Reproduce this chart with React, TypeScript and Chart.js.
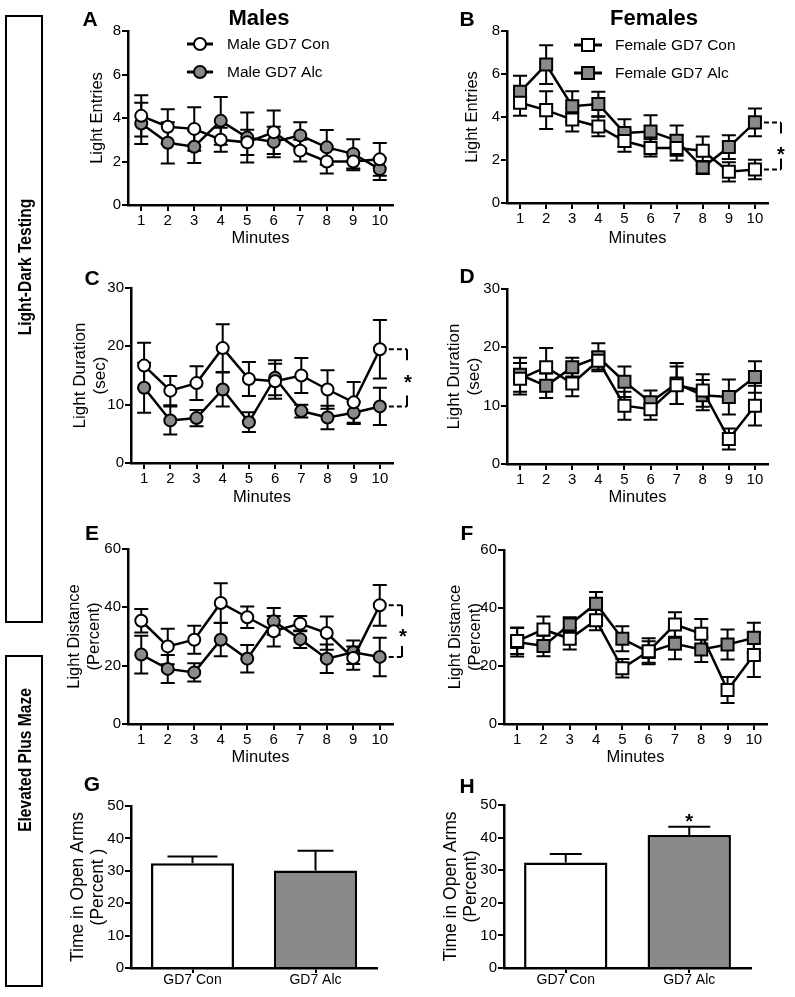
import React, { useEffect, useRef } from 'react';
import { Chart, registerables } from 'chart.js';

Chart.register(...registerables);

const W = 795;
const H = 997;
const FONT = '"Liberation Sans", Arial, Helvetica, sans-serif';
const NARROW = '"Liberation Sans Narrow", "Arial Narrow", "Liberation Sans", Arial, sans-serif';
const GRAY = '#8a8a8a';

Chart.defaults.font.family = FONT;
Chart.defaults.color = '#000';

// ---------- data ----------
const minuteLabels = ['1', '2', '3', '4', '5', '6', '7', '8', '9', '10'];

// A: Light entries, males
const maleConEntries = [4.1, 3.6, 3.5, 3.0, 2.88, 3.35, 2.5, 2.0, 2.0, 2.1];
const maleConEntriesErr = [0.95, 0.8, 1.0, 0.55, 0.58, 1.0, 0.5, 0.55, 0.4, 0.75];
const maleAlcEntries = [3.75, 2.86, 2.68, 3.87, 3.1, 2.9, 3.2, 2.65, 2.35, 1.65];
const maleAlcEntriesErr = [0.95, 0.95, 0.75, 1.1, 1.15, 0.7, 0.6, 0.8, 0.67, 0.5];

// B: Light entries, females
const femConEntries = [4.66, 4.32, 3.88, 3.56, 2.88, 2.56, 2.56, 2.43, 1.45, 1.56];
const femConEntriesErr = [0.6, 0.88, 0.55, 0.45, 0.5, 0.4, 0.58, 0.66, 0.45, 0.45];
const femAlcEntries = [5.17, 6.44, 4.5, 4.6, 3.26, 3.33, 2.9, 1.65, 2.6, 3.75];
const femAlcEntriesErr = [0.75, 0.9, 0.7, 0.57, 0.63, 0.75, 0.7, 0.3, 0.55, 0.65];

// C: Light duration, males
const maleConDuration = [16.7, 12.4, 13.7, 19.7, 14.4, 14.0, 15.0, 12.6, 10.4, 19.5];
const maleConDurationErr = [3.9, 2.5, 2.9, 4.1, 2.9, 3.0, 3.0, 3.3, 3.5, 5.0];
const maleAlcDuration = [12.9, 7.3, 7.7, 12.6, 7.0, 14.6, 8.9, 7.8, 8.6, 9.7];
const maleAlcDurationErr = [4.3, 2.4, 1.4, 2.9, 1.7, 3.0, 1.1, 2.0, 1.9, 3.2];

// D: Light duration, females
const femConDuration = [14.6, 16.6, 13.8, 17.7, 10.0, 9.4, 13.5, 12.6, 4.3, 10.0];
const femConDurationErr = [2.7, 3.3, 2.2, 1.5, 2.4, 1.8, 3.2, 2.8, 1.8, 3.4];
const femAlcDuration = [15.3, 13.4, 16.6, 18.3, 14.1, 10.6, 13.8, 11.8, 11.5, 14.9];
const femAlcDurationErr = [2.9, 2.1, 1.6, 2.4, 2.6, 2.0, 3.5, 2.6, 3.0, 2.7];

// E: Light distance, males
const maleConDistance = [35.4, 26.6, 28.9, 41.5, 36.6, 31.8, 34.4, 31.2, 22.6, 40.7];
const maleConDistanceErr = [4.0, 6.1, 4.8, 6.8, 3.7, 5.2, 2.6, 5.7, 4.0, 7.0];
const maleAlcDistance = [23.8, 18.9, 17.7, 28.9, 22.4, 35.2, 29.1, 22.4, 24.6, 23.0];
const maleAlcDistanceErr = [6.5, 4.8, 3.1, 5.7, 4.7, 4.6, 3.0, 4.9, 4.0, 6.6];

// F: Light distance, females
const femConDistance = [28.6, 32.6, 29.4, 35.8, 19.2, 25.1, 34.3, 31.1, 11.7, 23.8];
const femConDistanceErr = [4.5, 4.5, 3.7, 3.5, 3.2, 4.5, 4.2, 5.1, 4.5, 7.6];
const femAlcDistance = [28.3, 26.9, 34.3, 41.5, 29.4, 24.8, 27.7, 25.7, 27.4, 29.7];
const femAlcDistanceErr = [5.0, 3.5, 2.5, 4.0, 4.3, 3.7, 5.4, 4.3, 5.2, 5.2];

// G/H: Elevated plus maze
const groupLabels = ['GD7 Con', 'GD7 Alc'];
const maleOpenArms = [32.3, 30.1];
const maleOpenArmsErr = [2.1, 6.1];
const femOpenArms = [32.4, 40.8];
const femOpenArmsErr = [2.6, 2.5];

// ---------- plugins ----------
function drawErrors(chart: any, opts: any) {
  const ctx = chart.ctx;
  const ys = chart.scales.y;
  ctx.save();
  ctx.strokeStyle = '#000';
  ctx.lineWidth = opts.lineWidth || 2;
  chart.data.datasets.forEach((ds: any, di: number) => {
    const meta = chart.getDatasetMeta(di);
    (ds.errors || []).forEach((e: number, i: number) => {
      const el = meta.data[i];
      if (!el) return;
      const v = ds.data[i];
      const x = el.x;
      const c = Array.isArray(opts.capHalf) ? opts.capHalf[i] : opts.capHalf;
      const yTop = ys.getPixelForValue(v + e);
      const yBot = opts.mode === 'up' ? ys.getPixelForValue(v) : ys.getPixelForValue(v - e);
      ctx.beginPath();
      ctx.moveTo(x, yTop);
      ctx.lineTo(x, yBot);
      ctx.moveTo(x - c, yTop);
      ctx.lineTo(x + c, yTop);
      if (opts.mode === 'both') {
        ctx.moveTo(x - c, yBot);
        ctx.lineTo(x + c, yBot);
      }
      ctx.stroke();
    });
  });
  ctx.restore();
}

const errorBarsPlugin = {
  id: 'errorBars',
  beforeDatasetsDraw(chart: any, _a: any, opts: any) {
    if (!opts || opts.mode !== 'both') return;
    drawErrors(chart, opts);
  },
  afterDatasetsDraw(chart: any, _a: any, opts: any) {
    if (!opts || opts.mode !== 'up') return;
    drawErrors(chart, opts);
  },
};

function drawMarker(ctx: any, shape: string, x: number, y: number, fill: string) {
  ctx.beginPath();
  if (shape === 'rect') {
    ctx.rect(x - 6, y - 6, 12, 12);
  } else {
    ctx.arc(x, y, 6, 0, Math.PI * 2);
  }
  ctx.fillStyle = fill;
  ctx.fill();
  ctx.lineWidth = 2;
  ctx.strokeStyle = '#000';
  ctx.stroke();
}

const inlineLegendPlugin = {
  id: 'inlineLegend',
  afterDraw(chart: any, _a: any, opts: any) {
    if (!opts || opts.x === undefined) return;
    const ctx = chart.ctx;
    ctx.save();
    chart.data.datasets.forEach((ds: any, i: number) => {
      const y = opts.y + i * opts.dy;
      ctx.beginPath();
      ctx.strokeStyle = '#000';
      ctx.lineWidth = 3;
      ctx.moveTo(opts.x - opts.half, y);
      ctx.lineTo(opts.x + opts.half, y);
      ctx.stroke();
      drawMarker(ctx, ds.pointStyle, opts.x, y, ds.pointBackgroundColor);
      ctx.fillStyle = '#000';
      ctx.font = `${opts.fontSize}px ${FONT}`;
      ctx.textBaseline = 'middle';
      ctx.textAlign = 'left';
      ctx.fillText(ds.label, opts.textX, y + 1);
    });
    ctx.restore();
  },
};

const bracketPlugin = {
  id: 'sigBracket',
  afterDraw(chart: any, _a: any, opts: any) {
    if (!opts || opts.x === undefined) return;
    const ctx = chart.ctx;
    const p0 = chart.getDatasetMeta(0).data[opts.index];
    const p1 = chart.getDatasetMeta(1).data[opts.index];
    const yA = Math.min(p0.y, p1.y);
    const yB = Math.max(p0.y, p1.y);
    const xs = p0.x + 9;
    ctx.save();
    ctx.strokeStyle = '#000';
    ctx.lineWidth = 2;
    ctx.setLineDash([5, 3]);
    ctx.beginPath();
    ctx.moveTo(xs, yA);
    ctx.lineTo(opts.x, yA);
    ctx.moveTo(xs, yB);
    ctx.lineTo(opts.x, yB);
    ctx.stroke();
    ctx.setLineDash([]);
    ctx.beginPath();
    ctx.moveTo(opts.x, yA);
    ctx.lineTo(opts.x, yA + 11);
    ctx.moveTo(opts.x, yB - 11);
    ctx.lineTo(opts.x, yB);
    ctx.stroke();
    ctx.fillStyle = '#000';
    ctx.font = `bold 20px ${FONT}`;
    ctx.textAlign = 'center';
    ctx.textBaseline = 'alphabetic';
    ctx.fillText('*', opts.starX, (yA + yB) / 2 + (opts.starDy || 0) + 11.5);
    ctx.restore();
  },
};

const barStarPlugin = {
  id: 'barStar',
  afterDraw(chart: any, _a: any, opts: any) {
    if (!opts || opts.index === undefined) return;
    const ctx = chart.ctx;
    const ds = chart.data.datasets[0];
    const el = chart.getDatasetMeta(0).data[opts.index];
    const yCap = chart.scales.y.getPixelForValue(ds.data[opts.index] + ds.errors[opts.index]);
    ctx.save();
    ctx.fillStyle = '#000';
    ctx.font = `bold 20px ${FONT}`;
    ctx.textAlign = 'center';
    ctx.textBaseline = 'alphabetic';
    ctx.fillText('*', el.x, yCap - opts.gap + 11.5);
    ctx.restore();
  },
};

// ---------- config builders ----------
type Area = { left: number; top: number; right: number; bottom: number };

const Y_TITLE_LINE = 20;
const X_TITLE_SIZE = 16.5;
const X_TITLE_LH = 1.2;

function lineDs(label: string, data: number[], errors: number[], fill: string, shape: string) {
  return {
    label,
    data,
    errors,
    borderColor: '#000',
    borderWidth: 2.5,
    pointStyle: shape,
    pointRadius: shape === 'rect' ? 8.5 : 6,
    pointBorderWidth: 2,
    pointBorderColor: '#000',
    pointBackgroundColor: fill,
    tension: 0,
    fill: false,
  };
}

function yScale(area: Area, titleX: number, title: string | string[], titleSize: number, max: number, step: number) {
  const lh = Y_TITLE_LINE;
  const yw = area.left - (titleX - lh / 2);
  return {
    yw,
    scale: {
      min: 0,
      max,
      ticks: { stepSize: step, color: '#000', font: { size: 15 }, padding: 1 },
      grid: { drawOnChartArea: false, drawTicks: true, tickLength: 6, color: '#000', lineWidth: 2 },
      border: { display: true, color: '#000', width: 2.5 },
      title: {
        display: true,
        text: title,
        color: '#000',
        font: { size: titleSize, lineHeight: lh / titleSize },
        padding: 0,
      },
      afterFit: (s: any) => {
        s.width = yw;
      },
    },
  };
}

function lineConfig(spec: any) {
  const { area, titleX, title, titleSize, yMax, yStep, xTitleY, datasets, legend, bracket } = spec;
  const y = yScale(area, titleX, title, titleSize, yMax, yStep);
  const xh = xTitleY + (X_TITLE_SIZE * X_TITLE_LH) / 2 - area.bottom;
  return {
    type: 'line',
    data: { labels: minuteLabels, datasets },
    plugins: [errorBarsPlugin, inlineLegendPlugin, bracketPlugin],
    options: {
      responsive: false,
      animation: false,
      events: [],
      layout: {
        padding: {
          left: area.left - y.yw,
          top: area.top,
          right: W - area.right,
          bottom: H - area.bottom - xh,
        },
      },
      scales: {
        x: {
          type: 'category',
          offset: true,
          ticks: { color: '#000', font: { size: 15 }, padding: 1, autoSkip: false, maxRotation: 0 },
          grid: { offset: false, drawOnChartArea: false, drawTicks: true, tickLength: 6, color: '#000', lineWidth: 2 },
          border: { display: true, color: '#000', width: 2.5 },
          title: {
            display: true,
            text: 'Minutes',
            color: '#000',
            font: { size: X_TITLE_SIZE, lineHeight: X_TITLE_LH },
            padding: 0,
          },
          afterFit: (s: any) => {
            s.height = xh;
          },
        },
        y: y.scale,
      },
      plugins: {
        legend: { display: false },
        tooltip: { enabled: false },
        errorBars: { mode: 'both', capHalf: 7, lineWidth: 2 },
        inlineLegend: legend || {},
        sigBracket: bracket || {},
      },
    },
  };
}

function barConfig(spec: any) {
  const { area, titleX, title, values, errors, capHalf, star } = spec;
  const y = yScale(area, titleX, title, 17.5, 50, 10);
  const xh = 30;
  return {
    type: 'bar',
    data: {
      labels: groupLabels,
      datasets: [
        {
          label: 'Time in Open Arms',
          data: values,
          errors,
          backgroundColor: ['#ffffff', GRAY],
          borderColor: '#000',
          borderWidth: 2.5,
          borderSkipped: 'bottom',
          categoryPercentage: 1,
          barPercentage: 0.675,
        },
      ],
    },
    plugins: [errorBarsPlugin, barStarPlugin],
    options: {
      responsive: false,
      animation: false,
      events: [],
      layout: {
        padding: {
          left: area.left - y.yw,
          top: area.top,
          right: W - area.right,
          bottom: H - area.bottom - xh,
        },
      },
      scales: {
        x: {
          type: 'category',
          offset: true,
          ticks: { color: '#000', font: { size: 14 }, padding: -1, autoSkip: false, maxRotation: 0 },
          grid: { offset: false, drawOnChartArea: false, drawTicks: true, tickLength: 5, color: '#000', lineWidth: 2 },
          border: { display: true, color: '#000', width: 2.5 },
          afterFit: (s: any) => {
            s.height = xh;
          },
        },
        y: y.scale,
      },
      plugins: {
        legend: { display: false },
        tooltip: { enabled: false },
        errorBars: { mode: 'up', capHalf, lineWidth: 2 },
        barStar: star || {},
      },
    },
  };
}

// ---------- panel specs ----------
const panelA = () =>
  lineConfig({
    area: { left: 128, top: 31, right: 393, bottom: 205 },
    titleX: 97,
    title: 'Light Entries',
    titleSize: 16.5,
    yMax: 8,
    yStep: 2,
    xTitleY: 238,
    datasets: [
      lineDs('Male GD7 Con', maleConEntries, maleConEntriesErr, '#ffffff', 'circle'),
      lineDs('Male GD7 Alc', maleAlcEntries, maleAlcEntriesErr, GRAY, 'circle'),
    ],
    legend: { x: 200, half: 13, y: 44, dy: 28, textX: 227, fontSize: 15.5 },
  });

const panelB = () =>
  lineConfig({
    area: { left: 507, top: 31, right: 768, bottom: 203 },
    titleX: 472,
    title: 'Light Entries',
    titleSize: 16.5,
    yMax: 8,
    yStep: 2,
    xTitleY: 238,
    datasets: [
      lineDs('Female GD7 Con', femConEntries, femConEntriesErr, '#ffffff', 'rect'),
      lineDs('Female GD7 Alc', femAlcEntries, femAlcEntriesErr, GRAY, 'rect'),
    ],
    legend: { x: 588, half: 14, y: 45, dy: 28, textX: 615, fontSize: 15.5 },
    bracket: { index: 9, x: 781, starX: 781, starDy: 4 },
  });

const panelC = () =>
  lineConfig({
    area: { left: 131, top: 288, right: 393, bottom: 463 },
    titleX: 80,
    title: ['Light Duration', '(sec)'],
    titleSize: 17,
    yMax: 30,
    yStep: 10,
    xTitleY: 497,
    datasets: [
      lineDs('Male GD7 Con', maleConDuration, maleConDurationErr, '#ffffff', 'circle'),
      lineDs('Male GD7 Alc', maleAlcDuration, maleAlcDurationErr, GRAY, 'circle'),
    ],
    bracket: { index: 9, x: 407, starX: 408, starDy: 0 },
  });

const panelD = () =>
  lineConfig({
    area: { left: 507, top: 289, right: 768, bottom: 464 },
    titleX: 454,
    title: ['Light Duration', '(sec)'],
    titleSize: 17,
    yMax: 30,
    yStep: 10,
    xTitleY: 497,
    datasets: [
      lineDs('Female GD7 Con', femConDuration, femConDurationErr, '#ffffff', 'rect'),
      lineDs('Female GD7 Alc', femAlcDuration, femAlcDurationErr, GRAY, 'rect'),
    ],
  });

const panelE = () =>
  lineConfig({
    area: { left: 128, top: 549, right: 393, bottom: 724 },
    titleX: 74,
    title: ['Light Distance', '(Percent)'],
    titleSize: 16.5,
    yMax: 60,
    yStep: 20,
    xTitleY: 757,
    datasets: [
      lineDs('Male GD7 Con', maleConDistance, maleConDistanceErr, '#ffffff', 'circle'),
      lineDs('Male GD7 Alc', maleAlcDistance, maleAlcDistanceErr, GRAY, 'circle'),
    ],
    bracket: { index: 9, x: 402, starX: 403, starDy: 0 },
  });

const panelF = () =>
  lineConfig({
    area: { left: 504, top: 550, right: 767, bottom: 724 },
    titleX: 455,
    title: ['Light Distance', '(Percent)'],
    titleSize: 16.5,
    yMax: 60,
    yStep: 20,
    xTitleY: 757,
    datasets: [
      lineDs('Female GD7 Con', femConDistance, femConDistanceErr, '#ffffff', 'rect'),
      lineDs('Female GD7 Alc', femAlcDistance, femAlcDistanceErr, GRAY, 'rect'),
    ],
  });

const panelG = () =>
  barConfig({
    area: { left: 131, top: 806, right: 377, bottom: 968 },
    titleX: 78,
    title: ['Time in Open Arms', '(Percent )'],
    values: maleOpenArms,
    errors: maleOpenArmsErr,
    capHalf: [25, 18],
  });

const panelH = () =>
  barConfig({
    area: { left: 504, top: 805, right: 751, bottom: 968 },
    titleX: 451,
    title: ['Time in Open Arms', '(Percent)'],
    values: femOpenArms,
    errors: femOpenArmsErr,
    capHalf: [16, 21],
    star: { index: 1, gap: 10 },
  });

// ---------- components ----------
function ChartLayer({ make }: { make: () => any }) {
  const ref = useRef<HTMLCanvasElement>(null);
  useEffect(() => {
    const chart = new Chart(ref.current as HTMLCanvasElement, make() as any);
    return () => chart.destroy();
  }, []);
  return (
    <canvas
      ref={ref}
      width={W}
      height={H}
      style={{ position: 'absolute', left: 0, top: 0, width: W, height: H }}
    />
  );
}

function Label({ x, y, text, size, bold }: { x: number; y: number; text: string; size: number; bold?: boolean }) {
  return (
    <div
      style={{
        position: 'absolute',
        left: x,
        top: y,
        transform: 'translate(-50%, -50%)',
        fontFamily: FONT,
        fontSize: size,
        fontWeight: bold ? 700 : 400,
        lineHeight: 1,
        whiteSpace: 'nowrap',
        color: '#000',
      }}
    >
      {text}
    </div>
  );
}

function SideBox({ top, height, text, textY }: { top: number; height: number; text: string; textY: number }) {
  return (
    <>
      <div
        style={{
          position: 'absolute',
          left: 5,
          top,
          width: 38,
          height,
          border: '2px solid #000',
          boxSizing: 'border-box',
        }}
      />
      <div
        style={{
          position: 'absolute',
          left: 24,
          top: textY,
          transform: 'translate(-50%, -50%) rotate(-90deg) scale(0.82, 1)',
          fontFamily: NARROW,
          fontSize: 19,
          fontWeight: 700,
          lineHeight: 1,
          whiteSpace: 'nowrap',
          color: '#000',
        }}
      >
        {text}
      </div>
    </>
  );
}

export default function App() {
  return (
    <div style={{ position: 'absolute', left: 0, top: 0, width: W, height: H, background: '#fff', overflow: 'hidden' }}>
      <ChartLayer make={panelA} />
      <ChartLayer make={panelB} />
      <ChartLayer make={panelC} />
      <ChartLayer make={panelD} />
      <ChartLayer make={panelE} />
      <ChartLayer make={panelF} />
      <ChartLayer make={panelG} />
      <ChartLayer make={panelH} />

      <Label x={259} y={18} text="Males" size={22} bold />
      <Label x={654} y={18} text="Females" size={22} bold />

      <Label x={90} y={18} text="A" size={21} bold />
      <Label x={467} y={18} text="B" size={21} bold />
      <Label x={92} y={277} text="C" size={21} bold />
      <Label x={467} y={275} text="D" size={21} bold />
      <Label x={92} y={532} text="E" size={21} bold />
      <Label x={467} y={532} text="F" size={21} bold />
      <Label x={92} y={783} text="G" size={21} bold />
      <Label x={467} y={785} text="H" size={21} bold />

      <SideBox top={15} height={608} text="Light-Dark Testing" textY={267} />
      <SideBox top={655} height={332} text="Elevated Plus Maze" textY={760} />
    </div>
  );
}
